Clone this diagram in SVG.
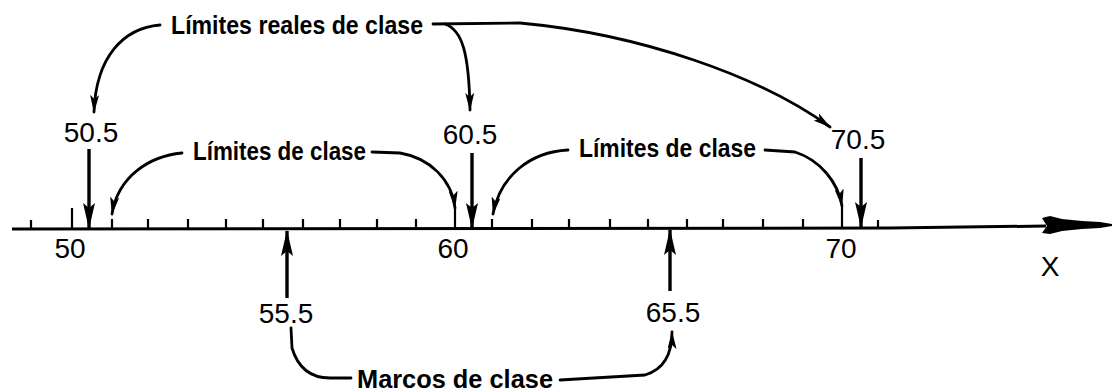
<svg xmlns="http://www.w3.org/2000/svg" width="1113" height="391" viewBox="0 0 1113 391">
<style>
.t{font-family:"Liberation Sans",Arial,sans-serif;font-size:25px;font-weight:bold;fill:#000}
.n{font-family:"Liberation Sans",Arial,sans-serif;font-size:28px;fill:#000}
.c{fill:none;stroke:#000;stroke-width:2.8;stroke-linecap:round;stroke-linejoin:round}
.a{fill:none;stroke:#000;stroke-width:3.4;stroke-linecap:butt}
.tk{stroke:#000;stroke-width:2.2}
</style>
<defs>
<marker id="ah" viewBox="0 0 18 9" refX="17" refY="4.5" markerWidth="18" markerHeight="9" markerUnits="userSpaceOnUse" orient="auto">
<path d="M0,0 L18,4.5 L0,9 L4,4.5 z" fill="#000"/>
</marker>
<marker id="big" viewBox="0 0 26 14" refX="25" refY="7" markerWidth="26" markerHeight="14" markerUnits="userSpaceOnUse" orient="auto">
<path d="M0,1 L26,7 L0,13 L5,7 z" fill="#000"/>
</marker>
</defs>
<g id="axis">
<path d="M12,229 L890,228 L1046,226" fill="none" stroke="#000" stroke-width="3"/>
<path d="M1042,218 L1050,216 L1062,219 L1082,221 L1100,222 L1112,224 L1112,226 L1100,228 L1082,229 L1062,231 L1050,234 L1042,233 L1047,226 z" fill="#000"/>
<g class="tk">
<line x1="31" y1="220" x2="31" y2="229"/>
<line x1="72" y1="208" x2="72" y2="229"/>
<line x1="112" y1="219" x2="112" y2="229"/>
<line x1="148" y1="219" x2="148" y2="229"/>
<line x1="188" y1="219" x2="188" y2="229"/>
<line x1="226" y1="219" x2="226" y2="229"/>
<line x1="263" y1="219" x2="263" y2="229"/>
<line x1="303" y1="219" x2="303" y2="229"/>
<line x1="340" y1="219" x2="340" y2="229"/>
<line x1="377" y1="219" x2="377" y2="229"/>
<line x1="416" y1="219" x2="416" y2="229"/>
<line x1="455" y1="208" x2="455" y2="229"/>
<line x1="492" y1="219" x2="492" y2="229"/>
<line x1="532" y1="219" x2="532" y2="229"/>
<line x1="569" y1="219" x2="569" y2="229"/>
<line x1="610" y1="219" x2="610" y2="229"/>
<line x1="648" y1="219" x2="648" y2="229"/>
<line x1="687" y1="219" x2="687" y2="229"/>
<line x1="723" y1="219" x2="723" y2="229"/>
<line x1="763" y1="219" x2="763" y2="229"/>
<line x1="803" y1="219" x2="803" y2="229"/>
<line x1="842" y1="206" x2="842" y2="229"/>
<line x1="878" y1="220" x2="878" y2="229"/>
</g>
</g>
<g id="label-limites-reales"><text class="t" x="171" y="34" textLength="252" lengthAdjust="spacingAndGlyphs">Límites reales de clase</text></g>
<g id="label-limites-1"><text class="t" x="193" y="160" textLength="173" lengthAdjust="spacingAndGlyphs">Límites de clase</text></g>
<g id="label-limites-2"><text class="t" x="579" y="157" textLength="177" lengthAdjust="spacingAndGlyphs">Límites de clase</text></g>
<g id="label-marcos"><text class="t" x="357" y="388" textLength="196" lengthAdjust="spacingAndGlyphs">Marcos  de  clase</text></g>
<g id="v50-5"><text class="n" x="91" y="142" text-anchor="middle">50.5</text></g>
<g id="v60-5"><text class="n" x="470" y="144" text-anchor="middle">60.5</text></g>
<g id="v70-5"><text class="n" x="858" y="149" text-anchor="middle">70.5</text></g>
<g id="v55-5"><text class="n" x="286" y="323" text-anchor="middle">55.5</text></g>
<g id="v65-5"><text class="n" x="673" y="322" text-anchor="middle">65.5</text></g>
<g id="t50"><text class="n" x="70" y="258" text-anchor="middle">50</text></g>
<g id="t60"><text class="n" x="453" y="258" text-anchor="middle">60</text></g>
<g id="t70"><text class="n" x="841" y="258" text-anchor="middle">70</text></g>
<g id="tX"><text class="n" x="1050" y="276" text-anchor="middle">X</text></g>
<g id="connectors">
<path class="c" d="M160,25 C124,28 96,56 94,112" marker-end="url(#ah)"/>
<path class="c" d="M433,24 L520,23 C640,34 760,76 830,127" marker-end="url(#ah)"/>
<path class="c" d="M445,24 C462,30 469,52 470,110" marker-end="url(#ah)"/>
<path class="c" d="M182,153 C150,156 118,176 112,214" marker-end="url(#ah)"/>
<path class="c" d="M372,152 L400,153 C430,158 452,180 455,208" marker-end="url(#ah)"/>
<path class="c" d="M568,150 C530,152 500,176 493,214" marker-end="url(#ah)"/>
<path class="c" d="M765,150 L795,152 C820,160 838,182 842,206" marker-end="url(#ah)"/>
<path class="a" d="M89,149 L89,228" marker-end="url(#big)"/>
<path class="a" d="M472,153 L472,228" marker-end="url(#big)"/>
<path class="a" d="M861,158 L861,227" marker-end="url(#big)"/>
<path class="a" d="M287,298 L287,231" marker-end="url(#big)"/>
<path class="a" d="M670,291 L670,230" marker-end="url(#big)"/>
<path class="c" d="M291,328 L292,348 C298,368 310,378 330,378 L351,378"/>
<path class="c" d="M560,380 L645,375 C662,370 672,356 672,332" marker-end="url(#ah)"/>
</g>
</svg>
